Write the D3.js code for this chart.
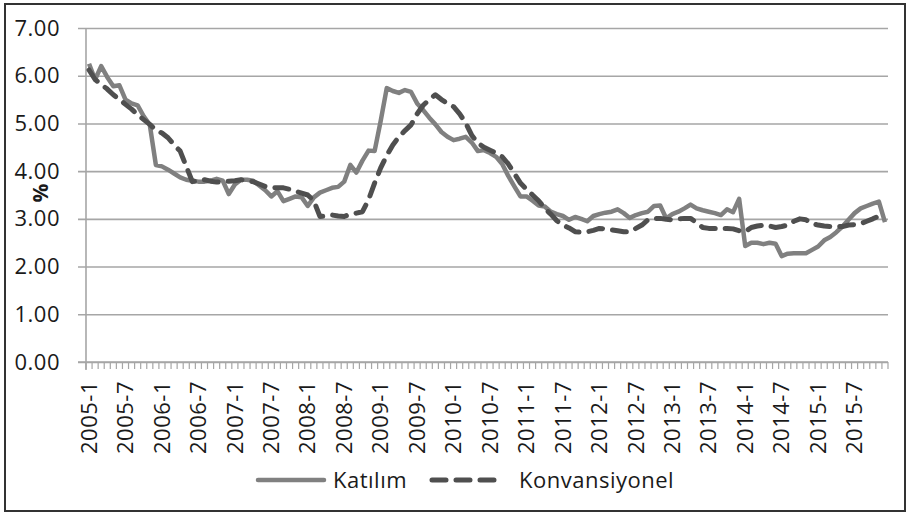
<!DOCTYPE html>
<html><head><meta charset="utf-8">
<script src="https://cdn.jsdelivr.net/npm/d3@7"></script>
<style>
html,body{margin:0;padding:0;background:#fff;}
text{font-family:"Open Sans",sans-serif;fill:#1a1a1a;}
</style></head>
<body><svg id="c" width="908" height="513"></svg>
<script>
const years = [2005,2006,2007,2008,2009,2010,2011,2012,2013,2014,2015];
const monthsOfYear = [1,2,3,4,5,6,7,8,9,10,11,12];
const categories = [];
years.forEach(y => monthsOfYear.forEach(m => categories.push(y + "-" + m)));
const tickLabels = categories.filter((c,i) => i % 6 === 0);
const yTicks = [0,1,2,3,4,5,6,7];
const seriesNames = ["Katılım","Konvansiyonel"];

const katilim = [
 6.25,5.92,6.2,5.97,5.78,5.8,5.5,5.42,5.38,5.15,4.97,4.13,
 4.1,4.03,3.95,3.87,3.82,3.8,3.78,3.78,3.8,3.84,3.8,3.52,
 3.72,3.82,3.82,3.8,3.7,3.6,3.47,3.58,3.37,3.42,3.47,3.45,
 3.27,3.45,3.55,3.6,3.65,3.67,3.78,4.13,3.97,4.22,4.43,4.42,
 5.05,5.74,5.68,5.64,5.7,5.66,5.42,5.28,5.12,4.98,4.82,4.72,
 4.65,4.68,4.72,4.6,4.42,4.44,4.38,4.3,4.15,3.9,3.68,3.47,
 3.47,3.38,3.28,3.26,3.15,3.1,3.06,2.98,3.04,3.0,2.95,3.06,
 3.1,3.13,3.15,3.2,3.12,3.02,3.08,3.12,3.15,3.27,3.28,3.01,
 3.1,3.15,3.22,3.3,3.22,3.18,3.15,3.12,3.08,3.2,3.14,3.42,
 2.43,2.5,2.5,2.47,2.5,2.48,2.22,2.27,2.28,2.28,2.28,2.35,
 2.42,2.55,2.62,2.72,2.84,2.98,3.12,3.22,3.27,3.32,3.36,2.93
];
const konvansiyonel = [
 6.12,5.92,5.82,5.72,5.6,5.5,5.4,5.3,5.18,5.08,4.98,4.86,
 4.8,4.7,4.55,4.42,4.1,3.78,3.8,3.82,3.79,3.77,3.78,3.79,
 3.8,3.82,3.8,3.78,3.73,3.68,3.66,3.65,3.65,3.62,3.58,3.54,
 3.5,3.38,3.05,3.06,3.08,3.06,3.05,3.1,3.12,3.15,3.4,3.75,
 4.07,4.33,4.55,4.72,4.85,4.97,5.2,5.38,5.5,5.6,5.5,5.42,
 5.35,5.2,5.01,4.75,4.59,4.5,4.44,4.38,4.3,4.15,3.95,3.75,
 3.62,3.5,3.38,3.22,3.1,2.96,2.87,2.81,2.73,2.72,2.73,2.76,
 2.8,2.79,2.77,2.75,2.73,2.73,2.8,2.87,2.98,3.01,3.01,2.99,
 2.98,3.0,3.01,3.01,2.92,2.82,2.8,2.8,2.8,2.8,2.79,2.75,
 2.73,2.82,2.85,2.87,2.85,2.82,2.84,2.87,2.95,3.0,2.98,2.9,
 2.87,2.85,2.84,2.84,2.84,2.87,2.88,2.9,2.95,3.0,3.06,3.1
];

const svg = d3.select("#c");
const L = 86, R = 888, T = 28, B = 362;
const gridColor = "#a6a6a6";
const kColor = "#808080", cColor = "#4f4f4f";
const fs = 22, ls = "0.5px";

// outer border
svg.append("rect").attr("x",5).attr("y",4).attr("width",900).attr("height",507)
  .attr("fill","none").attr("stroke","#333").attr("stroke-width",2);

const x = d3.scaleBand().domain(categories).range([L,R]).padding(0);
const y = d3.scaleLinear().domain([0,7]).range([B,T]);

// y grid + labels
const yAxis = svg.append("g").attr("transform",`translate(${L},0)`)
  .call(d3.axisLeft(y).tickValues(yTicks).tickFormat(d3.format(".2f")).tickSize(0).tickPadding(26));
yAxis.select(".domain").remove();
yAxis.selectAll(".tick line").attr("x1",-8).attr("x2",R-L).attr("stroke",gridColor).attr("stroke-width",1.6);
yAxis.selectAll("text").attr("font-size",fs).attr("letter-spacing",ls).attr("fill","#1a1a1a");

// y axis line
svg.append("line").attr("x1",L).attr("x2",L).attr("y1",T).attr("y2",B+8)
  .attr("stroke",gridColor).attr("stroke-width",1.6);

// x axis tick marks at category boundaries
const bounds = categories.map(c => x(c)).concat([x(categories[categories.length-1]) + x.bandwidth()]);
svg.append("g").selectAll("line").data(bounds).join("line")
  .attr("x1",d=>d).attr("x2",d=>d).attr("y1",B).attr("y2",B+7)
  .attr("stroke",gridColor).attr("stroke-width",1.2);
svg.append("line").attr("x1",L-8).attr("x2",R).attr("y1",B).attr("y2",B)
  .attr("stroke",gridColor).attr("stroke-width",1.6);

// x labels
const xAxis = svg.append("g").attr("transform",`translate(0,${B})`)
  .call(d3.axisBottom(x).tickValues(tickLabels).tickSize(0));
xAxis.select(".domain").remove();
xAxis.selectAll(".tick text")
  .attr("font-size",fs).attr("letter-spacing",ls).attr("fill","#1a1a1a")
  .attr("text-anchor","end").attr("dy","0.35em")
  .attr("transform","translate(0,19) rotate(-90)").attr("x",0).attr("y",0);

// y title
svg.append("text").attr("transform","translate(41,193) rotate(-90)")
  .attr("text-anchor","middle").attr("dy","0.35em")
  .attr("font-size",21).attr("font-weight","bold").text("%");

const line = d3.line().x((d,i)=>x(categories[i]) + x.bandwidth()/2).y(d=>y(d));

svg.append("path").datum(katilim).attr("d",line).attr("fill","none")
  .attr("stroke",kColor).attr("stroke-width",4.5).attr("stroke-linejoin","round");
svg.append("path").datum(konvansiyonel).attr("d",line).attr("fill","none")
  .attr("stroke",cColor).attr("stroke-width",5).attr("stroke-linejoin","round")
  .attr("stroke-linecap","round").attr("stroke-dasharray","14,10");

// legend
const lg = svg.append("g");
lg.append("line").attr("x1",258).attr("x2",324).attr("y1",480).attr("y2",480)
  .attr("stroke",kColor).attr("stroke-width",4.5).attr("stroke-linecap","round");
lg.append("text").attr("x",333).attr("y",480).attr("dy","0.35em").attr("font-size",fs).attr("letter-spacing",ls).text(seriesNames[0]);
lg.append("line").attr("x1",432).attr("x2",502).attr("y1",480).attr("y2",480)
  .attr("stroke",cColor).attr("stroke-width",5).attr("stroke-linecap","round").attr("stroke-dasharray","14,10");
lg.append("text").attr("x",519).attr("y",480).attr("dy","0.35em").attr("font-size",fs).attr("letter-spacing",ls).text(seriesNames[1]);
</script></body></html>
